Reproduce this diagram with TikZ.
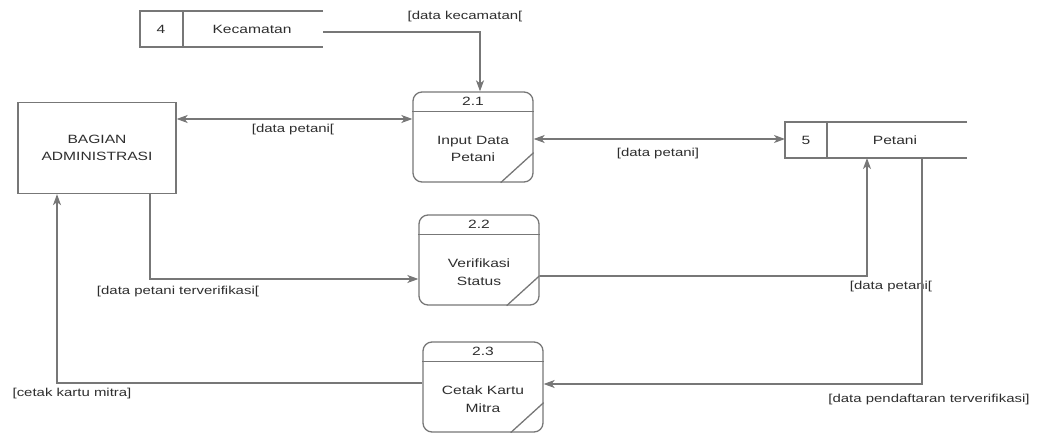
\documentclass[tikz,border=0pt]{standalone}
\usepackage{fontspec}
\setmainfont{Liberation Sans}[FakeStretch=1.3]
\definecolor{dfdLine}{HTML}{777777}
\definecolor{dfdText}{HTML}{2E2E2E}
\usetikzlibrary{calc,positioning,arrows.meta}

\begin{document}
\begin{tikzpicture}[x=1pt, y=-1pt,
    >={Stealth[length=11pt,width=8pt,inset=3pt]},
    proc/.style={draw=dfdLine, line width=1.3pt, rounded corners=9pt,
      minimum width=120pt, minimum height=90pt, inner sep=0pt},
    txt/.style={font=\fontsize{12}{17.5}\selectfont, text=dfdText, align=center},
    lbl/.style={font=\fontsize{11.5}{13}\selectfont, text=dfdText},
    flow/.style={draw=dfdLine, line width=1.3pt, ->},
    edge/.style={draw=dfdLine, line width=1.3pt}]
  \useasboundingbox (0,0) rectangle (1045,433);

  % external entity
  \node[draw=dfdLine, line width=1.3pt, minimum width=158pt, minimum height=91pt,
    txt] (ba) at (97,148) {BAGIAN\\ADMINISTRASI};

  % data store Kecamatan
  \draw[edge] (323,11) -- (140,11) -- (140,47) -- (323,47);
  \draw[edge] (183,11) -- (183,47);
  \node[txt] (kecid) at (161,29) {4};
  \node[txt] (kec) at (252,29) {Kecamatan};
  \coordinate (kecR) at (323,32);

  % data store Petani
  \draw[edge] (967,122) -- (785,122) -- (785,158) -- (967,158);
  \draw[edge] (827,122) -- (827,158);
  \node[txt] (petid) at (806,140) {5};
  \node[txt] (pet) at (895,140) {Petani};
  \coordinate (petW) at (785,139);
  \coordinate (petIn) at (867,158);
  \coordinate (petOut) at (922,158);

  % processes
  \node[proc] (p21) at (473,137) {};
  \node[proc] (p22) at (479,260) {};
  \node[proc] (p23) at (483,387) {};
  \foreach \p/\n/\t in {p21/2.1/{Input Data\\Petani},
                        p22/2.2/{Verifikasi\\Status},
                        p23/2.3/{Cetak Kartu\\Mitra}} {
    \draw[edge] ($(\p.north west)+(0,20)$) -- ($(\p.north east)+(0,20)$);
    \draw[edge] ($(\p.south east)+(-33,0)$) -- ($(\p.south east)+(0,-30)$);
    \node[txt] (\p n) at ($(\p.north)+(0,10)$) {\n};
    \node[txt] (\p t) at ($(\p.center)+(0,12)$) {\t};
  }

  % flows
  \draw[flow] (kecR) -| ([xshift=7pt]p21.north);
  \node[lbl] (l1) at (465,17) {[data kecamatan[};
  \draw[flow, <->] (ba.east |- 0,119) -- (p21.west |- 0,119);
  \node[lbl] (l2) at (293,130) {[data petani[};
  \draw[flow, <->] (p21.east |- 0,139) -- (petW);
  \node[lbl] (l3) at (658,154) {[data petani]};
  \draw[flow] (ba.south -| 150,0) |- (p22.west |- 0,279);
  \node[lbl] (l4) at (178,292) {[data petani terverifikasi[};
  \draw[flow] (p22.east |- 0,276) -| (petIn);
  \node[lbl] (l5) at (891,287) {[data petani[};
  \draw[flow] (petOut) |- (p23.east |- 0,384);
  \node[lbl] (l6) at (929,400) {[data pendaftaran terverifikasi]};
  \draw[flow] (p23.west |- 0,383) -| (ba.south -| 57,0);
  \node[lbl] (l7) at (72,394) {[cetak kartu mitra]};
\end{tikzpicture}
\end{document}
